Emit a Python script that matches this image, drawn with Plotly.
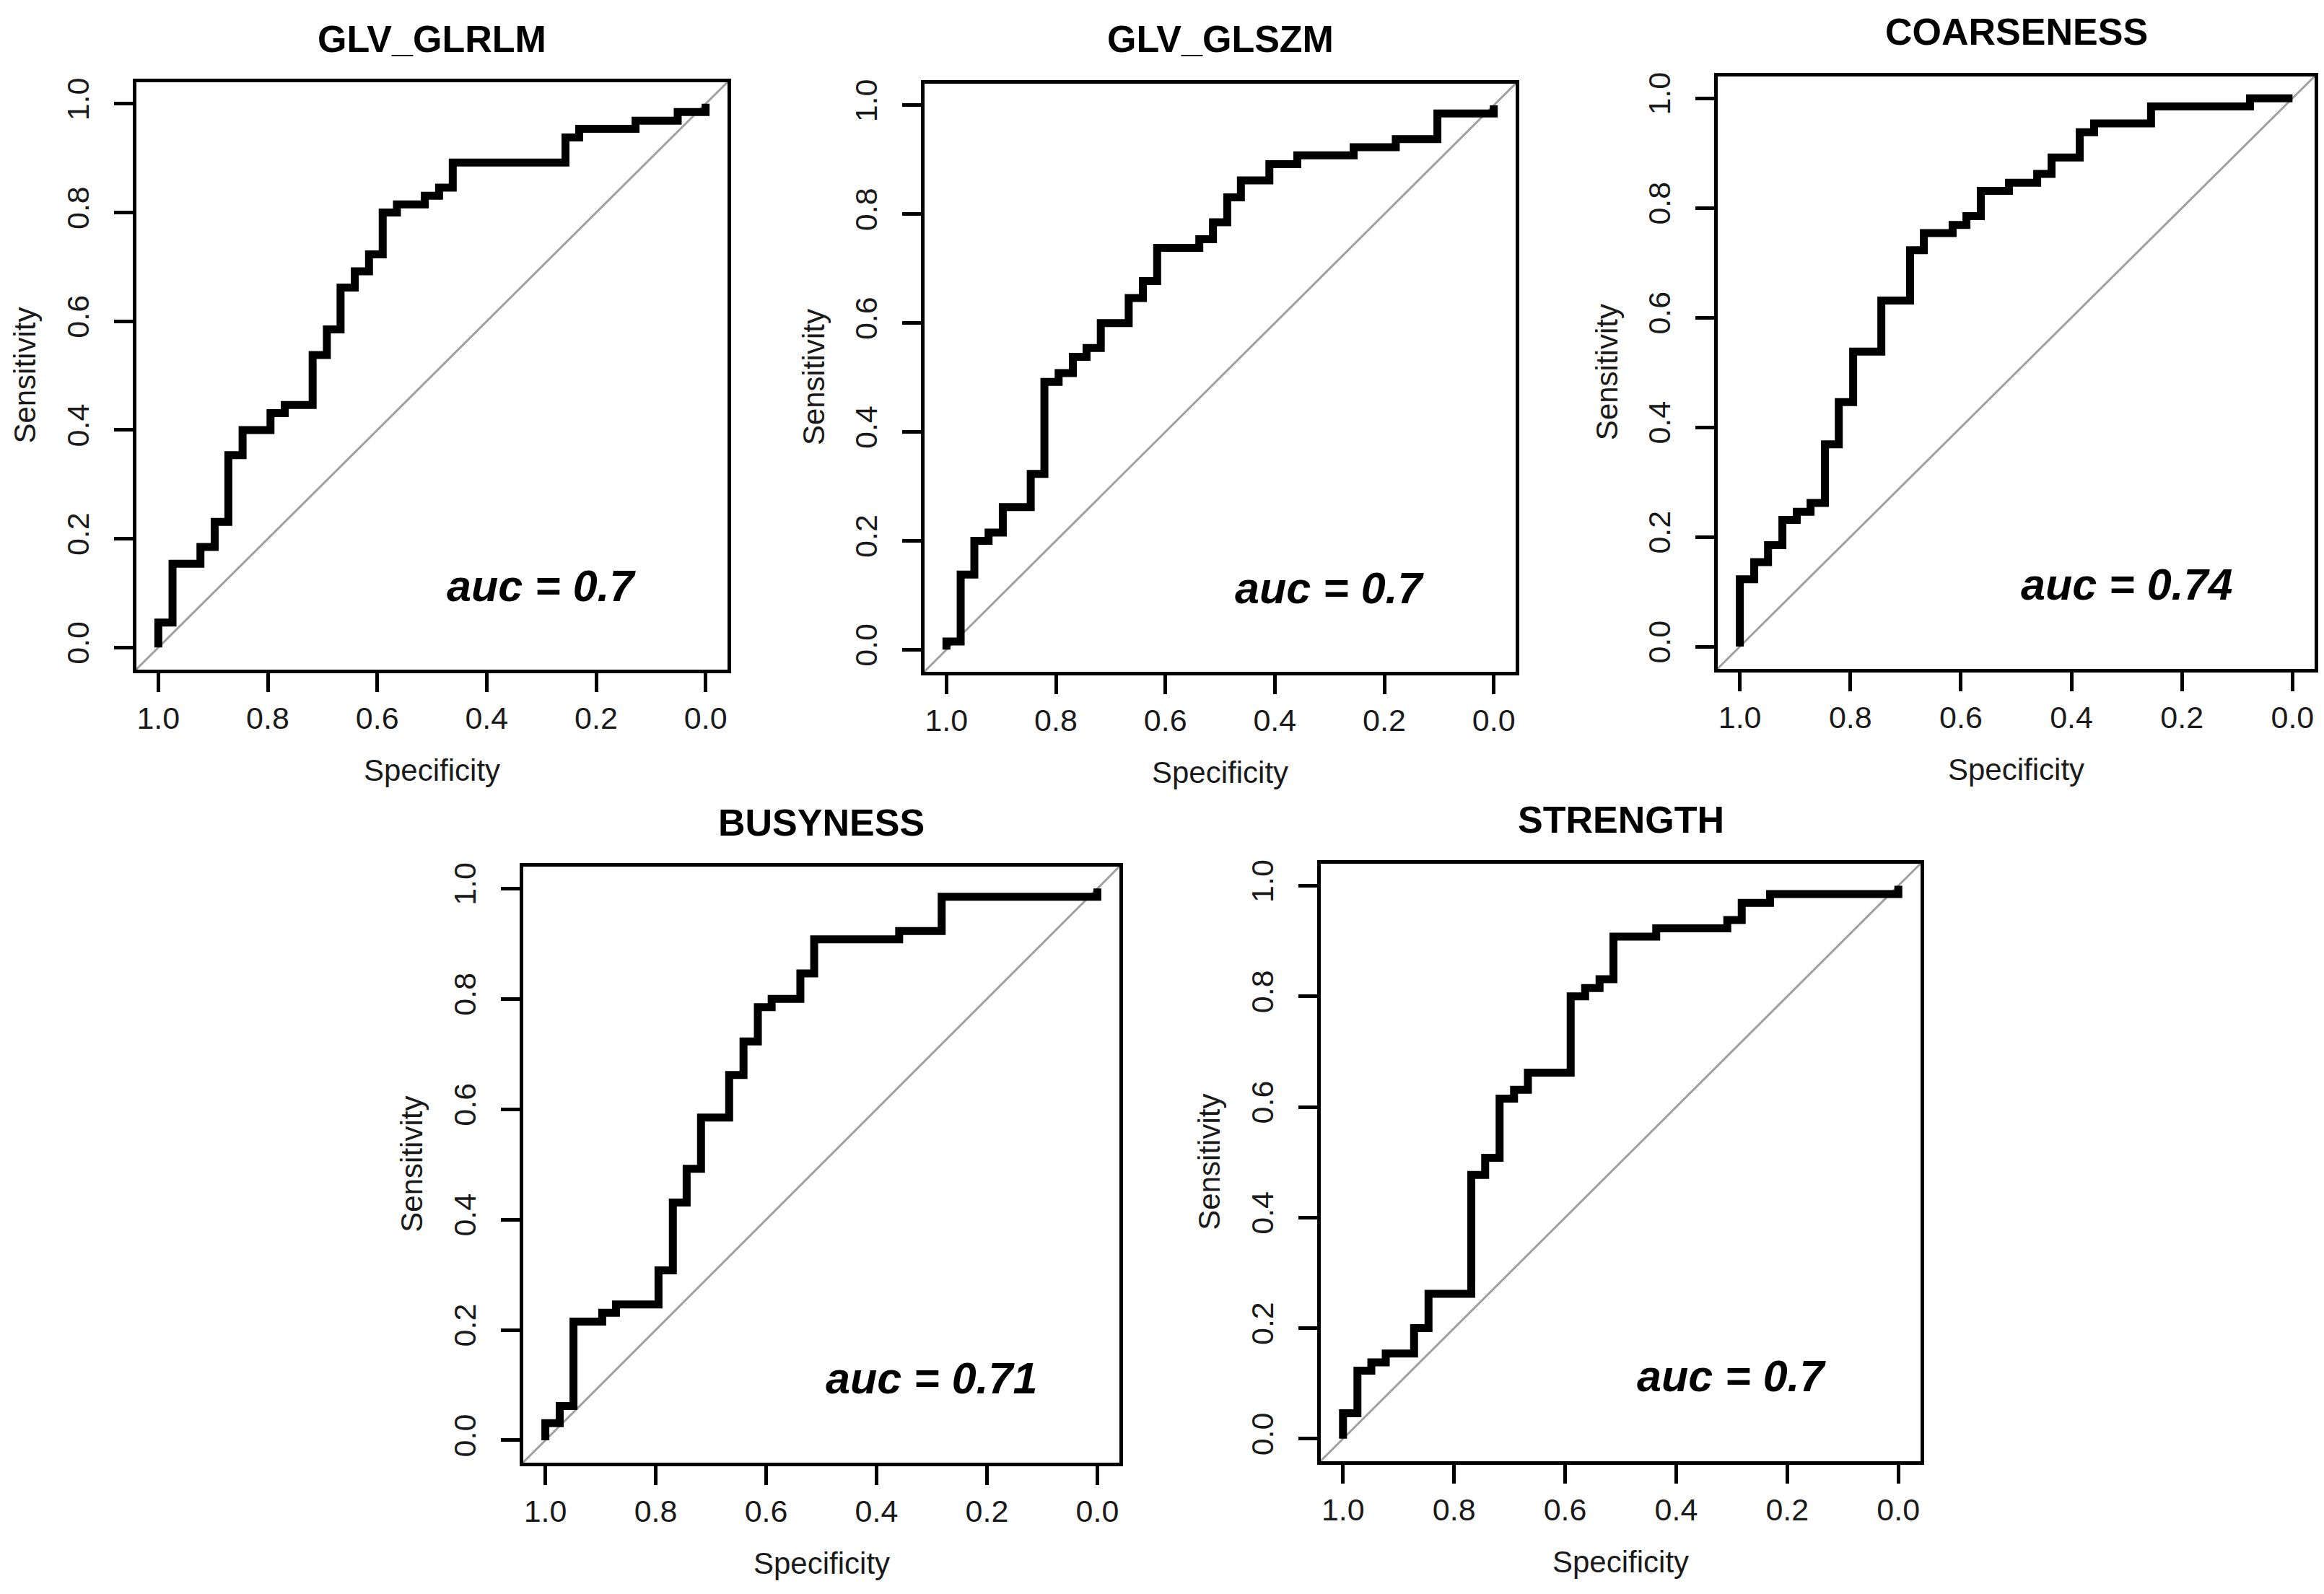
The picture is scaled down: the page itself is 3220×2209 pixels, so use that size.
import plotly.graph_objects as go

# ---------------- data ----------------
titles = ["GLV_GLRLM", "GLV_GLSZM", "COARSENESS", "BUSYNESS", "STRENGTH"]
auc_labels = ["auc = 0.7", "auc = 0.7", "auc = 0.74", "auc = 0.71", "auc = 0.7"]

spec_glrlm = [1.0, 0.974, 0.923, 0.897, 0.872, 0.846, 0.795, 0.769, 0.718, 0.692, 0.667, 0.641,
              0.615, 0.590, 0.564, 0.513, 0.487, 0.462, 0.256, 0.231, 0.128, 0.051, 0.0, 0.0]
sens_glrlm = [0.0, 0.046, 0.154, 0.185, 0.231, 0.354, 0.400, 0.431, 0.446, 0.538, 0.585, 0.662,
              0.692, 0.723, 0.800, 0.815, 0.831, 0.846, 0.892, 0.938, 0.954, 0.969, 0.985, 1.0]

spec_glszm = [1.0, 0.974, 0.949, 0.923, 0.897, 0.846, 0.821, 0.795, 0.769, 0.744, 0.718, 0.667,
              0.641, 0.615, 0.538, 0.513, 0.487, 0.462, 0.410, 0.359, 0.256, 0.179, 0.103, 0.0, 0.0]
sens_glszm = [0.0, 0.015, 0.138, 0.200, 0.215, 0.262, 0.323, 0.492, 0.508, 0.538, 0.554, 0.600,
              0.646, 0.677, 0.738, 0.754, 0.785, 0.831, 0.862, 0.892, 0.908, 0.923, 0.938, 0.985, 1.0]

spec_coarse = [1.0, 0.974, 0.949, 0.923, 0.897, 0.872, 0.846, 0.821, 0.795, 0.744, 0.692, 0.667,
               0.615, 0.590, 0.564, 0.513, 0.462, 0.436, 0.385, 0.359, 0.256, 0.077, 0.0]
sens_coarse = [0.0, 0.123, 0.154, 0.185, 0.231, 0.246, 0.262, 0.369, 0.446, 0.538, 0.631, 0.723,
               0.754, 0.769, 0.785, 0.831, 0.846, 0.862, 0.892, 0.938, 0.954, 0.985, 1.0]

spec_busy = [1.0, 0.974, 0.949, 0.897, 0.872, 0.795, 0.769, 0.744, 0.718, 0.667, 0.641, 0.615,
             0.590, 0.538, 0.513, 0.359, 0.282, 0.0, 0.0]
sens_busy = [0.0, 0.031, 0.062, 0.215, 0.231, 0.246, 0.308, 0.431, 0.492, 0.585, 0.662, 0.723,
             0.785, 0.800, 0.846, 0.908, 0.923, 0.985, 1.0]

spec_strength = [1.0, 0.974, 0.949, 0.923, 0.872, 0.846, 0.769, 0.744, 0.718, 0.692, 0.667, 0.590,
                 0.564, 0.538, 0.513, 0.436, 0.308, 0.282, 0.231, 0.0, 0.0]
sens_strength = [0.0, 0.046, 0.123, 0.138, 0.154, 0.200, 0.262, 0.477, 0.508, 0.615, 0.631, 0.662,
                 0.800, 0.815, 0.831, 0.908, 0.923, 0.938, 0.969, 0.985, 1.0]

tick_vals = [0.0, 0.2, 0.4, 0.6, 0.8, 1.0]
tick_text = ["0.0", "0.2", "0.4", "0.6", "0.8", "1.0"]

# ---------------- layout constants ----------------
W, H = 3220, 2209
# pixel boxes (left, right, top, bottom) of each panel
boxes = [(181, 1000, 100, 916),
         (1273, 2092, 102, 919),
         (2372, 3199, 92, 915),
         (717, 1543, 1190, 2018),
         (1822, 2653, 1186, 2016)]
title_y = [40, 40, 30, 1129, 1125]

FONT = "Arial, Liberation Sans, sans-serif"
TXT = "#1a1a1a"

specs = [spec_glrlm, spec_glszm, spec_coarse, spec_busy, spec_strength]
senss = [sens_glrlm, sens_glszm, sens_coarse, sens_busy, sens_strength]

fig = go.Figure()
annotations = []
shapes = []

for i in range(5):
    n = "" if i == 0 else str(i + 1)
    xa, ya = "x" + n, "y" + n
    l, r, t, b = boxes[i]
    fig.add_trace(go.Scatter(
        x=specs[i], y=senss[i], mode="lines", line=dict(color="black", width=11, shape="vh"),
        xaxis=xa, yaxis=ya, showlegend=False, hoverinfo="skip"))
    axis_common = dict(showline=True, linecolor="black", linewidth=5, mirror=True,
                       ticks="outside", ticklen=26, tickwidth=5, tickcolor="black",
                       tickvals=tick_vals, ticktext=tick_text, showgrid=False, zeroline=False,
                       tickfont=dict(family=FONT, size=43, color=TXT))
    fig.update_layout(**{
        ("xaxis" + n): dict(domain=[l / W, r / W], range=[1.04, -0.04], anchor=ya,
                             ticklabelstandoff=0, **axis_common),
        ("yaxis" + n): dict(domain=[1 - b / H, 1 - t / H], range=[-0.04, 1.04], anchor=xa,
                             tickangle=-90, ticklabelstandoff=18, **axis_common),
    })
    # chance diagonal
    shapes.append(dict(type="line", xref=xa + " domain", yref=ya + " domain", x0=0, y0=0, x1=1, y1=1,
                       line=dict(color="#a0a0a0", width=3), layer="below"))
    cx = (l + r) / 2 / W
    annotations.append(dict(text="<b>" + titles[i] + "</b>", x=cx, y=1 - title_y[i] / H,
                            xref="paper", yref="paper", showarrow=False, xanchor="center",
                            yanchor="middle", font=dict(family=FONT, size=52, color="black")))
    annotations.append(dict(text="Specificity", x=cx, y=1 - (b + 140) / H, xref="paper", yref="paper",
                            showarrow=False, xanchor="center", yanchor="middle",
                            font=dict(family=FONT, size=42, color=TXT)))
    annotations.append(dict(text="Sensitivity", x=(l - 154) / W, y=1 - (t + b) / 2 / H,
                            xref="paper", yref="paper", showarrow=False, textangle=-90,
                            xanchor="center", yanchor="middle",
                            font=dict(family=FONT, size=42, color=TXT)))
    annotations.append(dict(text="<b><i>" + auc_labels[i] + "</i></b>", x=0.3, y=0.113, xref=xa, yref=ya,
                            showarrow=False, xanchor="center", yanchor="middle",
                            font=dict(family=FONT, size=61, color="black")))

fig.update_layout(width=W, height=H, margin=dict(l=0, r=0, t=0, b=0),
                  paper_bgcolor="white", plot_bgcolor="white",
                  annotations=annotations, shapes=shapes, showlegend=False)

fig.write_html("out.html", config={"displayModeBar": False})
